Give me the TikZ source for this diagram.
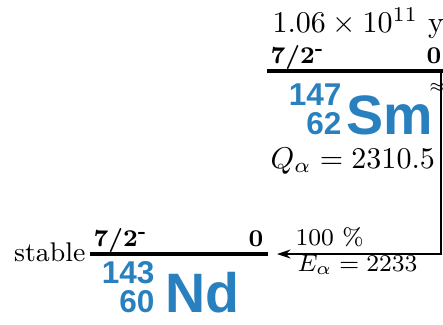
\documentclass[tikz,border=0pt]{standalone}
\usepackage{amsmath}
\usepackage{fontspec}
\newfontfamily\nucfont{Liberation Sans}
\usepackage{xcolor}
\definecolor{nucblue}{RGB}{41,128,190}
\usetikzlibrary{arrows.meta}

\begin{document}
\begin{tikzpicture}[x=0.333pt, y=-0.333pt,
  lvl/.style={line width=1.6pt},
  spin/.style={font=\footnotesize\bfseries, inner sep=0pt},
  decay/.style={line width=0.5pt, -{Stealth[length=4.5pt, width=3pt]}},
  nucsym/.style={font=\nucfont\bfseries\fontsize{18.5}{18.5}\selectfont, text=nucblue, inner sep=0pt, anchor=base west},
  nucnum/.style={font=\nucfont\bfseries\fontsize{10.5}{10.5}\selectfont, text=nucblue, inner sep=0pt, anchor=base east},
  info/.style={inner sep=0pt, anchor=base west}]
  \useasboundingbox (0,0) rectangle (443,324);

  % parent: Sm-147
  \coordinate (smL) at (267,71);
  \coordinate (smR) at (443,71);
  \draw[lvl] (smL) -- (smR);
  \node[info] (smhalf) at (272,32) {$1.06\times10^{11}$ y};
  \node[spin, anchor=base west] (smspin) at (270,63) {7/2\textsuperscript{-}};
  \node[spin, anchor=base east] (smE) at (442,63) {0};
  \node[nucnum] (smA) at (342,105) {147};
  \node[nucnum] (smZ) at (342,134) {62};
  \node[nucsym] (smsym) at (346,134) {Sm};
  \node[info] (smQ) at (270,168) {$Q_\alpha = 2310.5$};
  \node[font=\tiny, inner sep=0pt] (smcut) at (437,88) {$\approx$};

  % daughter: Nd-143
  \coordinate (ndL) at (90,254);
  \coordinate (ndR) at (268,254);
  \draw[lvl] (ndL) -- (ndR);
  \node[font=\small, inner sep=0pt, anchor=base east] (ndstable) at (86,261) {stable};
  \node[spin, anchor=base west] (ndspin) at (93,246) {7/2\textsuperscript{-}};
  \node[spin, anchor=base east] (ndE) at (264,246) {0};
  \node[nucnum] (ndA) at (155,283) {143};
  \node[nucnum] (ndZ) at (155,312) {60};
  \node[nucsym] (ndsym) at (165,312) {Nd};

  % alpha decay
  \coordinate (dtop) at (441,71);
  \coordinate (dend) at (277,254);
  \draw[decay] (dtop) |- (dend);
  \node[info, font=\footnotesize] (dbr) at (295,245) {100 \%};
  \node[info, font=\footnotesize] (dE) at (297,271) {$E_\alpha = 2233$};
\end{tikzpicture}
\end{document}
